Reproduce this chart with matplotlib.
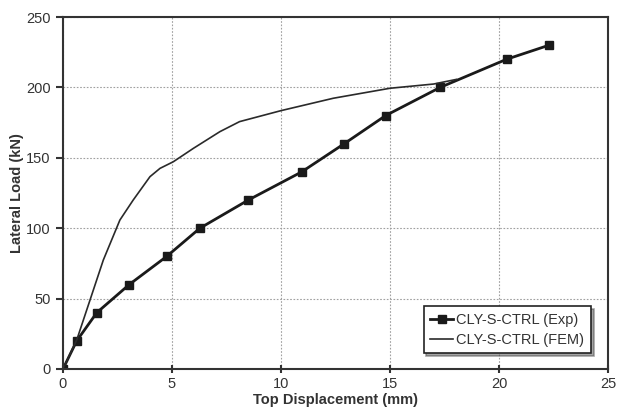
import matplotlib
matplotlib.use('Agg')
import matplotlib.pyplot as plt

plt.rcParams['font.family'] = ['Liberation Sans', 'DejaVu Sans']

# experimental curve
exp_x = [0, 0.63, 1.55, 3.04, 4.76, 6.28, 8.5, 10.95, 12.9, 14.8, 17.3, 20.35, 22.3]
exp_y = [0, 20, 40, 60, 80, 100, 120, 140, 160, 180, 200, 220, 230]

# finite element curve
fem_x = [0, 0.63, 1.24, 1.85, 2.61, 3.22, 3.99, 4.45, 5.06, 5.98, 7.2, 8.1,
         10.0, 12.4, 15.0, 17.0, 18.05]
fem_y = [0, 20.6, 49, 77.4, 105.8, 120, 136.6, 142.5, 147.2, 156.7, 168.6, 175.7,
         183.5, 192.3, 199.4, 202.4, 205.7]

xticks = [0, 5, 10, 15, 20, 25]
yticks = [0, 50, 100, 150, 200, 250]

fig = plt.figure(figsize=(6.17, 4.12), dpi=100)
ax = fig.add_axes([0.1021, 0.1044, 0.8833, 0.8543])

ax.plot(exp_x, exp_y, color='#1a1a1a', lw=2, marker='s', ms=6,
        label='CLY-S-CTRL (Exp)')
ax.plot(fem_x, fem_y, color='#2a2a2a', lw=1.2, label='CLY-S-CTRL (FEM)')

ax.set_xlim(0, 25)
ax.set_ylim(0, 250)
ax.set_xticks(xticks)
ax.set_yticks(yticks)
ax.grid(True, color='#a0a0a0', ls=(0, (1.5, 1.5)), lw=0.8)
ax.set_axisbelow(True)
for s in ax.spines.values():
    s.set_color('#333333')
    s.set_linewidth(1.5)
ax.tick_params(axis='x', direction='inout', length=6, width=1.5, colors='#333333',
               labelsize=10.5, pad=3)
ax.tick_params(axis='y', direction='out', length=5, width=1.5, colors='#333333',
               labelsize=10.5, pad=4)
for lab in ax.get_xticklabels() + ax.get_yticklabels():
    lab.set_color('#333333')

ax.set_xlabel('Top Displacement (mm)', fontsize=10.5, fontweight='bold',
              color='#333333', labelpad=1)
ax.set_ylabel('Lateral Load (kN)', fontsize=10.5, fontweight='bold',
              color='#333333', labelpad=1)

leg = ax.legend(loc='lower right', bbox_to_anchor=(0.982, 0.024), fontsize=10.5,
                frameon=True, fancybox=False, shadow=True, handlelength=1.6,
                handletextpad=0.2, borderpad=0.45, labelspacing=0.4)
leg.get_frame().set_edgecolor('#222222')
leg.get_frame().set_linewidth(1.2)
for t in leg.get_texts():
    t.set_color('#333333')

fig.savefig('out.png', dpi=100)
